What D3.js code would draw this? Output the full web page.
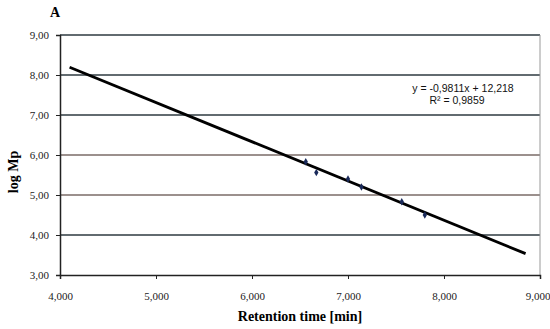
<!DOCTYPE html>
<html>
<head>
<meta charset="utf-8">
<script src="https://cdn.jsdelivr.net/npm/d3@7"></script>
<style>
  body { margin: 0; background: #fff; }
  svg { display: block; }
</style>
</head>
<body>
<div id="chart"></div>
<script>
// measured points (retention time, log Mp)
const retention = [6.56, 6.67, 7.00, 7.14, 7.56, 7.80];
const logMp = [5.83, 5.56, 5.40, 5.20, 4.83, 4.50];
const xTicks = [4, 5, 6, 7, 8, 9];
const yTicks = [3, 4, 5, 6, 7, 8, 9];
const slope = -0.9811;
const intercept = 12.218;
const fitRange = [4.1, 8.85];

const width = 550;
const height = 329;
const margin = { top: 35, right: 10, bottom: 54, left: 60 };

const svg = d3.select("#chart")
  .append("svg")
  .attr("width", width)
  .attr("height", height);

const x = d3.scaleLinear()
  .domain([4, 9])
  .range([margin.left, width - margin.right]);

const y = d3.scaleLinear()
  .domain([3, 9])
  .range([height - margin.bottom, margin.top]);

const fmtX = v => d3.format(".3f")(v).replace(".", ",");
const fmtY = v => d3.format(".2f")(v).replace(".", ",");

// gridlines
const gridColor = { 4: "#2e3a40", 5: "#7a6b67", 6: "#7a6b67", 7: "#2e3a40", 8: "#2e3a40", 9: "#2e3a40" };
svg.append("g")
  .selectAll("line")
  .data(yTicks.filter(d => d > 3))
  .enter()
  .append("line")
  .attr("x1", x(4))
  .attr("x2", x(9))
  .attr("y1", d => y(d))
  .attr("y2", d => y(d))
  .attr("stroke", d => gridColor[d])
  .attr("stroke-width", 1.3);

// right border
svg.append("line")
  .attr("x1", x(9)).attr("x2", x(9))
  .attr("y1", y(9)).attr("y2", y(3))
  .attr("stroke", "#999")
  .attr("stroke-width", 1);

// axes
const yAxis = d3.axisLeft(y)
  .tickValues(yTicks)
  .tickFormat(fmtY)
  .tickSize(4)
  .tickPadding(7);

const xAxis = d3.axisBottom(x)
  .tickValues(xTicks)
  .tickFormat(fmtX)
  .tickSize(4)
  .tickPadding(13);

const gy = svg.append("g")
  .attr("transform", `translate(${margin.left},0)`)
  .call(yAxis);

const gx = svg.append("g")
  .attr("transform", `translate(0,${height - margin.bottom})`)
  .call(xAxis);

[gx, gy].forEach(g => {
  g.select(".domain").attr("stroke", "#222").attr("stroke-width", 1.5);
  g.selectAll(".tick line").attr("stroke", "#222");
  g.selectAll("text")
    .attr("fill", "#222")
    .style("font-family", "Liberation Serif, Times New Roman, serif")
    .style("font-size", "11px");
});
// keep the last x label inside the window
gx.selectAll(".tick text").filter(d => d === 9).attr("text-anchor", "end").attr("dx", "10px");

// fitted line
svg.append("line")
  .attr("x1", x(fitRange[0]))
  .attr("y1", y(slope * fitRange[0] + intercept))
  .attr("x2", x(fitRange[1]))
  .attr("y2", y(slope * fitRange[1] + intercept))
  .attr("stroke", "#000")
  .attr("stroke-width", 2.8);

// data points
svg.append("g")
  .selectAll("path")
  .data(retention.map((r, i) => [r, logMp[i]]))
  .enter()
  .append("path")
  .attr("d", d3.symbol(d3.symbolDiamond, 16))
  .attr("transform", d => `translate(${x(d[0])},${y(d[1])})`)
  .attr("fill", "#1a2a5a");

// equation
svg.append("text")
  .attr("x", 463)
  .attr("y", 92)
  .attr("text-anchor", "middle")
  .style("font-family", "Liberation Sans, Arial, sans-serif")
  .style("font-size", "10.5px")
  .attr("fill", "#111")
  .text("y = -0,9811x + 12,218");

svg.append("text")
  .attr("x", 457)
  .attr("y", 104)
  .attr("text-anchor", "middle")
  .style("font-family", "Liberation Sans, Arial, sans-serif")
  .style("font-size", "10.5px")
  .attr("fill", "#111")
  .text("R² = 0,9859");

// titles
svg.append("text")
  .attr("x", 50)
  .attr("y", 17)
  .style("font-family", "Liberation Serif, Times New Roman, serif")
  .style("font-weight", "bold")
  .style("font-size", "14px")
  .text("A");

svg.append("text")
  .attr("x", 300)
  .attr("y", 321)
  .attr("text-anchor", "middle")
  .style("font-family", "Liberation Serif, Times New Roman, serif")
  .style("font-weight", "bold")
  .style("font-size", "14px")
  .text("Retention time [min]");

svg.append("text")
  .attr("transform", `translate(18,172) rotate(-90)`)
  .attr("text-anchor", "middle")
  .style("font-family", "Liberation Serif, Times New Roman, serif")
  .style("font-weight", "bold")
  .style("font-size", "14px")
  .text("log Mp");
</script>
</body>
</html>
